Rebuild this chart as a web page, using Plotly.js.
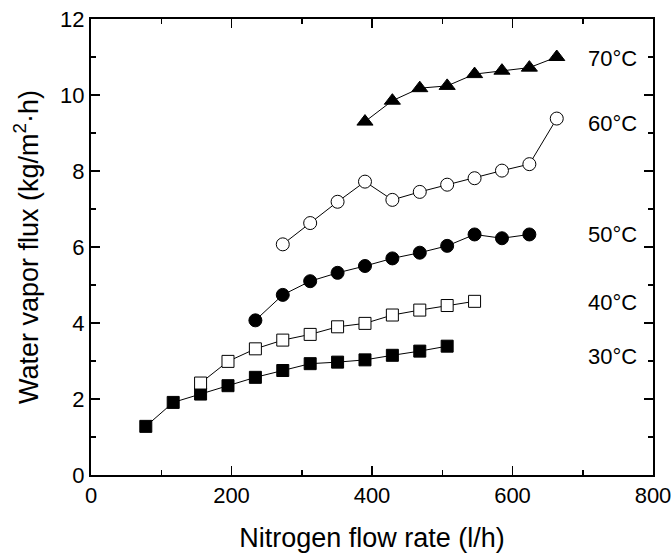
<!DOCTYPE html>
<html>
<head>
<meta charset="utf-8">
<script src="https://cdn.plot.ly/plotly-3.0.1.min.js"></script>
<style>
  html, body { margin: 0; padding: 0; background: #fff; }
  #chart { width: 671px; height: 554px; }
</style>
</head>
<body>
<div id="chart"></div>
<script>
// Nitrogen flow rate (l/h) and water vapor flux (kg/m2·h) at each feed temperature
const flow30 = [78, 117, 156, 195, 234, 273, 312, 351, 390, 429, 468, 507];
const flux30 = [1.28, 1.91, 2.13, 2.35, 2.57, 2.75, 2.93, 2.97, 3.03, 3.15, 3.26, 3.39];

const flow40 = [156, 195, 234, 273, 312, 351, 390, 429, 468, 507, 546];
const flux40 = [2.42, 2.99, 3.32, 3.55, 3.70, 3.90, 3.99, 4.21, 4.34, 4.46, 4.57];

const flow50 = [234, 273, 312, 351, 390, 429, 468, 507, 546, 585, 624];
const flux50 = [4.07, 4.74, 5.10, 5.32, 5.50, 5.70, 5.85, 6.03, 6.33, 6.23, 6.33];

const flow60 = [273, 312, 351, 390, 429, 468, 507, 546, 585, 624, 663];
const flux60 = [6.07, 6.63, 7.19, 7.72, 7.24, 7.45, 7.64, 7.81, 8.01, 8.18, 9.38];

const flow70 = [390, 429, 468, 507, 546, 585, 624, 663];
const flux70 = [9.30, 9.85, 10.18, 10.24, 10.55, 10.64, 10.72, 11.00];

const seriesNames = ['30°C', '40°C', '50°C', '60°C', '70°C'];
const labelY = [3.12, 4.53, 6.32, 9.26, 10.97];

const FONT = 'Liberation Sans, Arial, Helvetica, sans-serif';

function series(x, y, name, symbol, size, fill) {
  return {
    x: x, y: y, name: name, type: 'scatter', mode: 'lines+markers',
    line: { color: '#000', width: 1 },
    marker: { symbol: symbol, size: size, color: fill, line: { color: '#000', width: 1 } },
    cliponaxis: false
  };
}

const traces = [
  series(flow30, flux30, seriesNames[0], 'square', 12, '#000'),
  series(flow40, flux40, seriesNames[1], 'square', 12, '#fff'),
  series(flow50, flux50, seriesNames[2], 'circle', 13, '#000'),
  series(flow60, flux60, seriesNames[3], 'circle', 13, '#fff'),
  series(flow70, flux70, seriesNames[4], 'triangle-up', 14, '#000')
];

const annotations = seriesNames.map((t, i) => ({
  text: t, xref: 'paper', yref: 'y', x: 0.88, y: labelY[i],
  xanchor: 'left', yanchor: 'middle', showarrow: false,
  font: { family: FONT, size: 22, color: '#000' }
}));

const axisCommon = {
  showgrid: false, zeroline: false,
  showline: true, linecolor: '#000', linewidth: 2, mirror: 'ticks',
  ticks: 'inside', ticklen: 9, tickwidth: 1.5, tickcolor: '#000',
  ticklabeloverflow: 'allow',
  tickfont: { family: FONT, size: 22, color: '#000' }
};

const layout = {
  width: 671, height: 554,
  margin: { l: 91, r: 18, t: 19, b: 79 },
  paper_bgcolor: '#fff', plot_bgcolor: '#fff',
  showlegend: false,
  font: { family: FONT, color: '#000' },
  xaxis: Object.assign({}, axisCommon, {
    range: [0, 800], dtick: 200, tick0: 0,
    minor: { dtick: 100, ticklen: 5, tickwidth: 1.5, tickcolor: '#000', ticks: 'inside', showgrid: false },
    title: { text: 'Nitrogen flow rate (l/h)', font: { family: FONT, size: 27, color: '#000' }, standoff: 21 }
  }),
  yaxis: Object.assign({}, axisCommon, {
    range: [0, 12], dtick: 2, tick0: 0,
    minor: { dtick: 1, ticklen: 5, tickwidth: 1.5, tickcolor: '#000', ticks: 'inside', showgrid: false },
    title: { text: 'Water vapor flux (kg/m<sup>2</sup>·h)', font: { family: FONT, size: 27, color: '#000' }, standoff: 14 }
  }),
  annotations: annotations
};

Plotly.newPlot('chart', traces, layout, { displayModeBar: false, staticPlot: true });
</script>
</body>
</html>
